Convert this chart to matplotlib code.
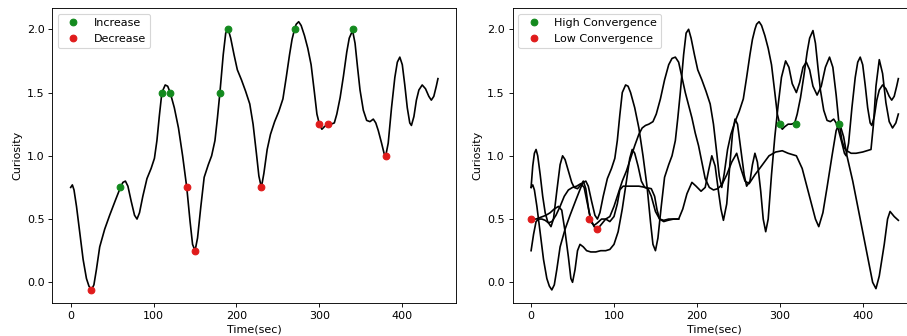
import numpy as np
import matplotlib.pyplot as plt

# curiosity curve (left panel, also drawn on the right)
t_main = [0, 2, 4, 7, 11, 15, 19, 22, 25, 28, 31, 35, 41, 47, 54, 60, 63, 66, 69, 73, 77, 80,
          83, 87, 92, 97, 101, 104, 107, 110, 114, 117, 120, 125, 130, 135, 140, 144, 147, 150,
          153, 157, 161, 166, 170, 174, 177, 180, 184, 187, 190, 193, 197, 201, 206, 211, 216,
          220, 224, 227, 230, 233, 237, 241, 246, 251, 256, 260, 264, 267, 270, 272, 275, 278,
          282, 286, 290, 294, 297, 300, 303, 306, 310, 314, 318, 321, 325, 329, 333, 336, 340,
          343, 346, 349, 353, 357, 361, 365, 368, 371, 375, 378, 380, 383, 387, 391, 394, 397,
          400, 403, 406, 409, 411, 414, 417, 420, 424, 428, 432, 435, 438, 441, 443]
c_main = [0.75, 0.77, 0.73, 0.6, 0.39, 0.18, 0.03, -0.03, -0.06, -0.02, 0.1, 0.28, 0.42, 0.53,
          0.65, 0.75, 0.79, 0.8, 0.76, 0.64, 0.53, 0.5, 0.55, 0.68, 0.82, 0.9, 0.98, 1.12, 1.32,
          1.5, 1.56, 1.55, 1.5, 1.38, 1.22, 1.0, 0.75, 0.48, 0.3, 0.25, 0.35, 0.6, 0.83, 0.93,
          1.0, 1.12, 1.3, 1.5, 1.8, 1.97, 2.0, 1.93, 1.8, 1.68, 1.6, 1.51, 1.41, 1.25, 1.02,
          0.84, 0.75, 0.86, 1.05, 1.17, 1.27, 1.35, 1.45, 1.62, 1.8, 1.92, 2.0, 2.04, 2.06,
          2.03, 1.95, 1.85, 1.72, 1.5, 1.33, 1.25, 1.21, 1.23, 1.25, 1.25, 1.26, 1.33, 1.46,
          1.63, 1.82, 1.93, 1.99, 1.89, 1.7, 1.52, 1.36, 1.28, 1.27, 1.29, 1.26, 1.2, 1.1,
          1.02, 1.0, 1.1, 1.38, 1.62, 1.74, 1.78, 1.72, 1.56, 1.38, 1.26, 1.24, 1.31, 1.44,
          1.52, 1.56, 1.53, 1.47, 1.44, 1.47, 1.55, 1.61]

inc_t = [60, 110, 120, 180, 190, 270, 340]
inc_c = [0.75, 1.5, 1.5, 1.5, 2.0, 2.0, 2.0]
dec_t = [25, 140, 150, 230, 300, 310, 380]
dec_c = [-0.06, 0.75, 0.25, 0.75, 1.25, 1.25, 1.0]

# the other three curves of the right panel
t_q = [0, 2, 4, 6, 8, 11, 14, 17, 20, 24, 27, 31, 35, 38, 41, 45, 49, 52, 56, 60, 63, 66, 70,
       73, 76, 80, 85, 90, 95, 100, 104, 107, 111, 115, 122, 130, 138, 145, 149, 152, 155, 160,
       165, 172, 178, 183, 188, 194, 199, 205, 210, 214, 218, 222, 226, 229, 232, 236, 240, 243,
       246, 249, 253, 257, 260, 264, 267, 270, 273, 277, 280, 283, 286, 290, 294, 298, 302, 307,
       311, 315, 320, 324, 328, 332, 336, 340, 345, 350, 355, 360, 364, 368, 371, 375, 378, 381,
       386, 392, 400, 405, 410, 413, 416, 420, 424, 428, 432, 436, 440, 443]
c_q = [0.75, 0.92, 1.02, 1.05, 1.0, 0.85, 0.68, 0.55, 0.48, 0.44, 0.5, 0.72, 0.93, 1.0, 0.97,
       0.88, 0.79, 0.75, 0.74, 0.77, 0.8, 0.74, 0.55, 0.47, 0.45, 0.47, 0.5, 0.5, 0.48, 0.52,
       0.62, 0.73, 0.76, 0.76, 0.76, 0.76, 0.75, 0.74, 0.68, 0.57, 0.5, 0.48, 0.49, 0.5, 0.5,
       0.58, 0.7, 0.79, 0.76, 0.72, 0.75, 0.88, 1.0, 0.92, 0.72, 0.58, 0.49, 0.62, 0.95, 1.18,
       1.29, 1.25, 1.05, 0.85, 0.76, 0.8, 0.93, 1.02, 0.95, 0.72, 0.5, 0.4, 0.5, 0.85, 1.15,
       1.4, 1.62, 1.75, 1.7, 1.57, 1.5, 1.58, 1.7, 1.74, 1.68, 1.55, 1.48, 1.55, 1.7, 1.78, 1.7,
       1.48, 1.28, 1.12, 1.06, 1.04, 1.02, 1.02, 1.03, 1.04, 1.05, 1.25, 1.55, 1.76, 1.65, 1.42,
       1.27, 1.22, 1.26, 1.33]

t_l = [0, 3, 6, 9, 13, 17, 21, 25, 30, 35, 40, 45, 50, 55, 60, 64, 68, 72, 76, 80, 85, 90, 95,
       100, 105, 110, 115, 120, 125, 130, 134, 138, 142, 147, 151, 156, 161, 166, 170, 174, 178,
       182, 186, 190, 194, 198, 202, 206, 210, 215, 220, 225, 230, 236, 242, 248, 253, 258, 263,
       270, 278, 287, 295, 303, 310, 320, 327, 335, 343, 347, 352, 357, 363, 368, 372, 377, 381,
       388, 397, 406, 412, 416, 420, 426, 430, 433, 438, 443]
c_l = [0.25, 0.38, 0.48, 0.5, 0.5, 0.49, 0.47, 0.48, 0.53, 0.6, 0.68, 0.73, 0.75, 0.76, 0.78,
       0.75, 0.62, 0.5, 0.44, 0.42, 0.46, 0.5, 0.52, 0.6, 0.7, 0.8, 0.88, 0.98, 1.08, 1.17, 1.22,
       1.24, 1.25, 1.27, 1.33, 1.45, 1.6, 1.72, 1.77, 1.78, 1.74, 1.62, 1.5, 1.4, 1.3, 1.18,
       1.08, 0.95, 0.82, 0.75, 0.73, 0.74, 0.77, 0.85, 0.95, 1.02, 0.9, 0.8, 0.78, 0.85, 0.92,
       1.0, 1.03, 1.04, 1.02, 1.0, 0.9, 0.7, 0.5, 0.44, 0.55, 0.75, 1.0, 1.2, 1.26, 1.15, 1.0,
       0.8, 0.5, 0.2, 0.0, -0.05, 0.05, 0.3, 0.5, 0.56, 0.52, 0.49]

t_r = [0, 3, 6, 10, 14, 18, 23, 28, 33, 37, 41, 45, 48, 50, 53, 56, 59, 63, 67, 72, 78, 84, 90,
       95, 100, 105, 110, 115, 119, 122, 125, 129, 133, 137, 141, 145, 150, 155, 160, 166, 172,
       178]
c_r = [0.5, 0.5, 0.5, 0.51, 0.52, 0.53, 0.55, 0.58, 0.6, 0.57, 0.4, 0.2, 0.03, 0.0, 0.1, 0.25,
       0.3, 0.28, 0.25, 0.24, 0.24, 0.25, 0.25, 0.26, 0.3, 0.4, 0.58, 0.8, 0.98, 1.05, 1.02,
       0.92, 0.8, 0.75, 0.74, 0.68, 0.56, 0.5, 0.49, 0.5, 0.5, 0.5]

high_t = [300, 320, 371]
high_c = [1.25, 1.25, 1.25]
low_t = [0, 70, 80]
low_c = [0.5, 0.5, 0.42]

green = '#138a1e'
red = '#e01b1b'

# drawn at 80 dpi so the default sizes come out like the reference
fig = plt.figure(figsize=(907 / 80, 336 / 80), dpi=80)
ax1 = fig.add_axes([0.0577, 0.0973, 0.4454, 0.878])
ax2 = fig.add_axes([0.5653, 0.0973, 0.4454, 0.878])

ax1.plot(t_main, c_main, color='black')
ax1.plot(inc_t, inc_c, 'o', color=green, label='Increase')
ax1.plot(dec_t, dec_c, 'o', color=red, label='Decrease')
ax1.legend(loc='upper left')

for tt, cc in [(t_main, c_main), (t_q, c_q), (t_l, c_l), (t_r, c_r)]:
    ax2.plot(tt, cc, color='black')
ax2.plot(high_t, high_c, 'o', color=green, label='High Convergence')
ax2.plot(low_t, low_c, 'o', color=red, label='Low Convergence')
ax2.legend(loc='upper left')

for ax in (ax1, ax2):
    ax.set_xlabel('Time(sec)', labelpad=3)
    ax.set_ylabel('Curiosity')
    ax.set_xticks([0, 100, 200, 300, 400])
    ax.set_yticks([0.0, 0.5, 1.0, 1.5, 2.0])

fig.savefig('out.png', dpi=80)
